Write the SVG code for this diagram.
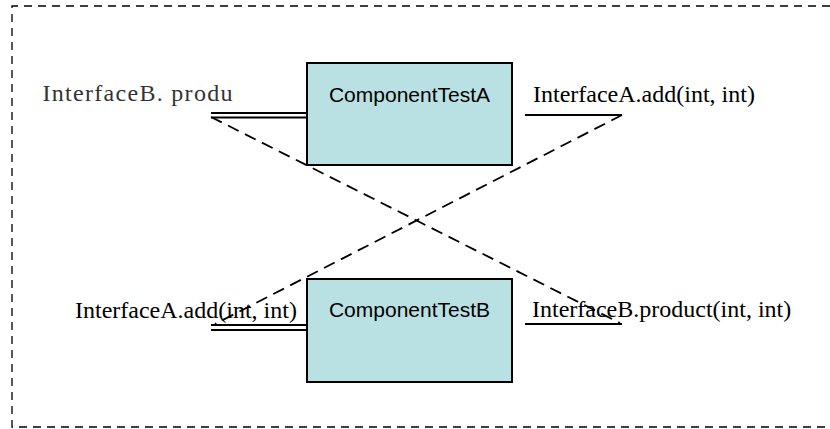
<svg xmlns="http://www.w3.org/2000/svg" width="830" height="429" viewBox="0 0 830 429">
<style>
.frame{fill:none;stroke:#000;stroke-width:1.3;stroke-dasharray:8 6}
.box{fill:#b9e0e2;stroke:#000;stroke-width:2}
.comp{font-family:"Liberation Sans",Arial,sans-serif;font-size:21px;fill:#000;text-anchor:middle}
.ser{font-family:"Liberation Serif","Times New Roman",serif;font-size:24px;fill:#000}
.cjk{font-family:"Liberation Serif","Noto Sans CJK SC",serif;font-size:24px;fill:#333}
.solid{stroke:#000;stroke-width:2;fill:none}
.dash{stroke:#000;stroke-width:1.8;fill:none;stroke-dasharray:12 7}
</style>
<rect x="0" y="0" width="830" height="429" fill="#fff"/>
<path class="frame" d="M 844 6 L 12 6 L 12 427 L 844 427"/>
<g id="nodeA">
<rect class="box" x="307" y="63" width="205" height="102"/>
<text class="comp" x="409.5" y="102">ComponentTestA</text>
</g>
<g id="nodeB">
<rect class="box" x="307" y="279" width="205" height="103"/>
<text class="comp" x="409.5" y="317">ComponentTestB</text>
</g>
<g id="labels">
<text class="cjk" x="42.5" y="101" textLength="190" lengthAdjust="spacing">InterfaceB. produ</text>
<text class="ser" x="533" y="102">InterfaceA.add(int, int)</text>
<text class="ser" x="75" y="318">InterfaceA.add(int, int)</text>
<text class="ser" x="532" y="317">InterfaceB.product(int, int)</text>
</g>
<g id="connectors">
<line class="solid" x1="211" y1="113" x2="307" y2="113"/>
<line class="solid" x1="211" y1="117.5" x2="307" y2="117.5"/>
<line class="solid" x1="525" y1="115" x2="622" y2="115"/>
<line class="solid" x1="211" y1="325" x2="307" y2="325"/>
<line class="solid" x1="211" y1="330" x2="307" y2="330"/>
<line class="solid" x1="525" y1="324" x2="622" y2="324"/>
<line class="dash" x1="211" y1="117" x2="620" y2="323"/>
<line class="dash" x1="622" y1="115" x2="215" y2="324"/>
</g>
</svg>
